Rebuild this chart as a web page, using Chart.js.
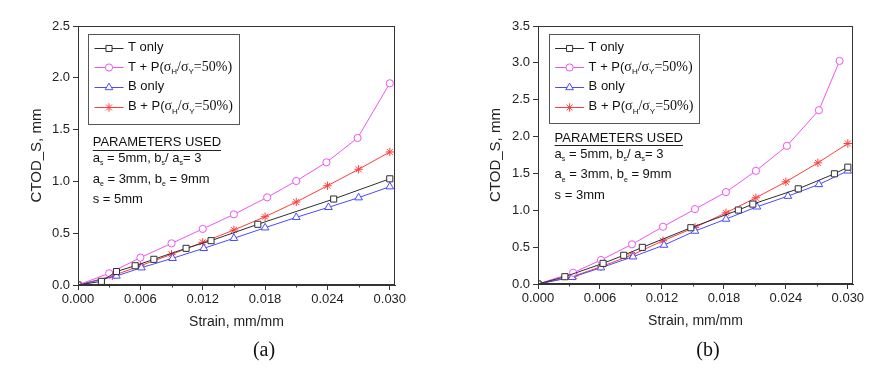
<!DOCTYPE html>
<html><head><meta charset="utf-8">
<script src="https://cdn.jsdelivr.net/npm/chart.js@4.4.1/dist/chart.umd.min.js"></script>
<style>
html,body{margin:0;padding:0;background:#fff;}
#wrap{position:relative;width:891px;height:379px;overflow:hidden;background:#fff;}
.box{position:absolute;top:0;height:379px;}
.cap{position:absolute;font-family:"Liberation Serif","Times New Roman",serif;font-size:20px;color:#111;transform:translate(-50%,-50%);white-space:nowrap;}
</style></head><body>
<div id="wrap">
 <div class="box" style="left:0;width:445px"><canvas id="ca"></canvas></div>
 <div class="box" style="left:446px;width:445px"><canvas id="cb"></canvas></div>
 <div class="cap" style="left:264px;top:349px">(a)</div>
 <div class="cap" style="left:708px;top:349px">(b)</div>
</div>
<script>
// ---------- data ----------
const seriesNames = ['T only', 'T + P(σH/σY=50%)', 'B only', 'B + P(σH/σY=50%)'];
const xTickValues = [0, 0.006, 0.012, 0.018, 0.024, 0.030];
const xMinorTickValues = [0.003, 0.009, 0.015, 0.021, 0.027];
const yTickValuesA = [0, 0.5, 1.0, 1.5, 2.0, 2.5];
const yTickValuesB = [0, 0.5, 1.0, 1.5, 2.0, 2.5, 3.0, 3.5];

// chart (a): s = 5mm
const strainA_T  = [0, 0.00225, 0.0037, 0.0055, 0.0073, 0.0104, 0.0128, 0.0173, 0.0246, 0.0300];
const ctodA_T    = [0, 0.035, 0.13, 0.186, 0.248, 0.354, 0.428, 0.586, 0.830, 1.025];
const strainA_TP = [0, 0.0030, 0.0060, 0.0090, 0.0120, 0.0150, 0.0182, 0.0210, 0.0239, 0.0269, 0.0300];
const ctodA_TP   = [0, 0.113, 0.264, 0.402, 0.541, 0.682, 0.846, 1.004, 1.184, 1.419, 1.947];
const strainA_B  = [0, 0.0037, 0.0061, 0.0091, 0.0121, 0.0150, 0.0180, 0.0210, 0.0241, 0.0270, 0.0300];
const ctodA_B    = [0, 0.087, 0.167, 0.258, 0.354, 0.451, 0.553, 0.653, 0.750, 0.843, 0.949];
const strainA_BP = [0, 0.0033, 0.0060, 0.0090, 0.0120, 0.0150, 0.0180, 0.0210, 0.0240, 0.0270, 0.0300];
const ctodA_BP   = [0, 0.087, 0.186, 0.296, 0.412, 0.531, 0.659, 0.801, 0.958, 1.117, 1.284];

// chart (b): s = 3mm
const strainB_T  = [0, 0.0026, 0.0063, 0.0083, 0.0101, 0.0148, 0.0194, 0.0208, 0.0252, 0.0287, 0.0300];
const ctodB_T    = [0, 0.099, 0.28, 0.39, 0.497, 0.763, 1.003, 1.084, 1.291, 1.495, 1.585];
const strainB_TP = [0, 0.0034, 0.0061, 0.0091, 0.0121, 0.0152, 0.0182, 0.0211, 0.0241, 0.0272, 0.0292];
const ctodB_TP   = [0, 0.153, 0.325, 0.538, 0.777, 1.016, 1.247, 1.535, 1.874, 2.358, 3.026];
const strainB_B  = [0, 0.0033, 0.0061, 0.0092, 0.0122, 0.0152, 0.0182, 0.0212, 0.0242, 0.0272, 0.0300];
const ctodB_B    = [0, 0.091, 0.221, 0.370, 0.528, 0.718, 0.881, 1.047, 1.192, 1.351, 1.535];
const strainB_BP = [0, 0.0035, 0.0061, 0.0091, 0.0121, 0.0152, 0.0182, 0.0211, 0.0240, 0.0271, 0.0300];
const ctodB_BP   = [0, 0.108, 0.235, 0.393, 0.587, 0.768, 0.966, 1.170, 1.386, 1.644, 1.906];

// ---------- styling ----------
const SANS = "'Liberation Sans', Arial, sans-serif";
const SERIF = "'Liberation Serif', 'Times New Roman', serif";
Chart.defaults.font.family = SANS;
const COLORS = ['#2e2e2e', '#ee55ee', '#4a4aff', '#ff3c3c'];
const STYLES = ['rect', 'circle', 'triangle', 'star'];
const RADII = [4.3, 3.6, 4.4, 4.2];

function drawRuns(ctx, x, y, runs) {
  for (const r of runs) {
    ctx.font = r.f;
    ctx.fillText(r.t, x, y + (r.dy || 0));
    x += ctx.measureText(r.t).width;
  }
  return x;
}
function drawMarker(ctx, style, x, y, r, color) {
  ctx.save();
  ctx.strokeStyle = color; ctx.fillStyle = '#fff'; ctx.lineWidth = 1;
  ctx.beginPath();
  if (style === 'rect') {
    const s = r * Math.SQRT1_2; ctx.rect(x - s, y - s, 2 * s, 2 * s); ctx.fill(); ctx.stroke();
  } else if (style === 'circle') {
    ctx.arc(x, y, r, 0, Math.PI * 2); ctx.fill(); ctx.stroke();
  } else if (style === 'triangle') {
    let a = 0;
    ctx.moveTo(x + Math.sin(a) * r, y - Math.cos(a) * r);
    a += 2 * Math.PI / 3; ctx.lineTo(x + Math.sin(a) * r, y - Math.cos(a) * r);
    a += 2 * Math.PI / 3; ctx.lineTo(x + Math.sin(a) * r, y - Math.cos(a) * r);
    ctx.closePath(); ctx.fill(); ctx.stroke();
  } else {
    for (let k = 0; k < 4; k++) {
      const a = k * Math.PI / 4;
      ctx.moveTo(x - Math.cos(a) * r, y - Math.sin(a) * r);
      ctx.lineTo(x + Math.cos(a) * r, y + Math.sin(a) * r);
    }
    ctx.stroke();
  }
  ctx.restore();
}
function legendRuns(i) {
  const main = "13px " + SANS, ser = "14px " + SERIF, sub = "8px " + SANS;
  const lead = i === 1 ? 'T + P(' : 'B + P(';
  if (i === 0) return [{t: 'T only', f: main}];
  if (i === 2) return [{t: 'B only', f: main}];
  return [{t: lead, f: main}, {t: 'σ', f: ser}, {t: 'H', f: sub, dy: 5},
          {t: '/σ', f: ser}, {t: 'Y', f: sub, dy: 5}, {t: '=50%)', f: ser}];
}

const framePlugin = {
  id: 'frame',
  afterDraw(chart, args, o) {
    const ctx = chart.ctx, ca = chart.chartArea;
    const xs = chart.scales.x;
    ctx.save();
    // plot frame
    ctx.strokeStyle = '#333'; ctx.lineWidth = 1;
    const L = Math.round(ca.left) + 0.5, T = Math.round(ca.top) + 0.5;
    const R = Math.round(ca.right) - 0.5, B = Math.round(ca.bottom) - 0.5;
    ctx.strokeRect(L, T, R - L, B - T);
    // minor x ticks
    ctx.beginPath();
    for (const v of xMinorTickValues) {
      const px = Math.round(xs.getPixelForValue(v)) + 0.5;
      ctx.moveTo(px, B); ctx.lineTo(px, B + 3);
    }
    ctx.stroke();
    // legend box
    const lx = ca.left + o.legDx, ly = ca.top + o.legDy;
    ctx.strokeStyle = '#555';
    ctx.strokeRect(Math.round(lx) + 0.5, Math.round(ly) + 0.5, o.legW, o.legH);
    ctx.textBaseline = 'middle'; ctx.fillStyle = '#111';
    for (let i = 0; i < 4; i++) {
      const yy = ly + 13.5 + i * 19.7;
      ctx.strokeStyle = COLORS[i]; ctx.lineWidth = 1;
      ctx.beginPath(); ctx.moveTo(lx + 6.5, Math.round(yy) + 0.5); ctx.lineTo(lx + 35.5, Math.round(yy) + 0.5); ctx.stroke();
      drawMarker(ctx, STYLES[i], lx + 21, Math.round(yy) + 0.5, RADII[i], COLORS[i]);
      ctx.fillStyle = '#111';
      drawRuns(ctx, lx + 40, yy, legendRuns(i));
    }
    // parameters text
    const px0 = ca.left + o.parDx, py0 = ca.top + o.parDy;
    const main = "13px " + SANS, sub = "7px " + SANS;
    ctx.font = main;
    ctx.fillText('PARAMETERS USED', px0, py0);
    const w = ctx.measureText('PARAMETERS USED').width;
    ctx.strokeStyle = '#222';
    ctx.beginPath(); ctx.moveTo(px0, Math.round(py0 + 7) + 0.5); ctx.lineTo(px0 + w, Math.round(py0 + 7) + 0.5); ctx.stroke();
    drawRuns(ctx, px0, py0 + o.parGap[0], [
      {t: 'a', f: main}, {t: 's', f: sub, dy: 5}, {t: ' = 5mm, b', f: main}, {t: 's', f: sub, dy: 5},
      {t: '/ a', f: main}, {t: 's', f: sub, dy: 5}, {t: '= 3', f: main}]);
    drawRuns(ctx, px0, py0 + o.parGap[1], [
      {t: 'a', f: main}, {t: 'e', f: sub, dy: 5}, {t: ' = 3mm, b', f: main}, {t: 'e', f: sub, dy: 5},
      {t: ' = 9mm', f: main}]);
    drawRuns(ctx, px0, py0 + o.parGap[2], [{t: o.sText, f: main}]);
    ctx.restore();
  }
};

function makeChart(id, xs, ys, yMax, yTicks, cfg) {
  const datasets = xs.map((xa, i) => ({
    label: seriesNames[i],
    data: xa.map((v, k) => ({x: v, y: ys[i][k]})),
    showLine: true,
    borderColor: COLORS[i],
    borderWidth: 1,
    pointStyle: STYLES[i],
    pointRadius: RADII[i],
    pointBorderColor: COLORS[i],
    pointBackgroundColor: '#fff',
    pointBorderWidth: 1,
    tension: 0
  }));
  return new Chart(document.getElementById(id), {
    type: 'scatter',
    data: {datasets},
    options: {
      responsive: true, maintainAspectRatio: false, animation: false,
      events: [],
      layout: {padding: {left: 0, right: cfg.padRight, top: 26, bottom: cfg.padBottom}},
      plugins: {legend: {display: false}, tooltip: {enabled: false}, frame: cfg.frame},
      scales: {
        x: {
          type: 'linear', min: 0, max: 0.0305,
          afterBuildTicks: s => { s.ticks = xTickValues.map(v => ({value: v})); },
          afterFit: s => { s.height = 48; },
          ticks: {callback: v => Number(v).toFixed(3), font: {size: 13}, color: '#222', padding: 2, maxRotation: 0, autoSkip: false},
          grid: {drawOnChartArea: false, drawTicks: true, tickLength: 5, color: '#333'},
          border: {color: '#333', width: 1},
          title: {display: true, text: 'Strain, mm/mm', font: {size: 14}, color: '#222', padding: {top: 0, bottom: 2}}
        },
        y: {
          type: 'linear', min: 0, max: yMax,
          afterBuildTicks: s => { s.ticks = yTicks.map(v => ({value: v})); },
          afterFit: s => { s.width = cfg.yWidth; },
          ticks: {callback: v => Number(v).toFixed(1), font: {size: 13}, color: '#222', padding: 3, autoSkip: false},
          grid: {drawOnChartArea: false, drawTicks: true, tickLength: 5, color: '#333'},
          border: {color: '#333', width: 1},
          title: {display: true, text: 'CTOD_S, mm', font: {size: 15}, color: '#222', padding: {top: cfg.yTitlePad, bottom: 0}}
        }
      }
    },
    plugins: [framePlugin]
  });
}

makeChart('ca',
  [strainA_T, strainA_TP, strainA_B, strainA_BP],
  [ctodA_T, ctodA_TP, ctodA_B, ctodA_BP],
  2.5, yTickValuesA,
  {padRight: 50, padBottom: 46, yWidth: 78, yTitlePad: 28,
   frame: {legDx: 10, legDy: 8, legW: 151, legH: 90, parDx: 14.7, parDy: 116.7, parGap: [15.6, 36.3, 56.6], sText: 's = 5mm'}});

makeChart('cb',
  [strainB_T, strainB_TP, strainB_B, strainB_BP],
  [ctodB_T, ctodB_TP, ctodB_B, ctodB_BP],
  3.5, yTickValuesB,
  {padRight: 38, padBottom: 47, yWidth: 92, yTitlePad: 41,
   frame: {legDx: 10.6, legDy: 8, legW: 150, legH: 89, parDx: 16.6, parDy: 112.3, parGap: [16, 36.4, 56.7], sText: 's = 3mm'}});
</script>
</body></html>
